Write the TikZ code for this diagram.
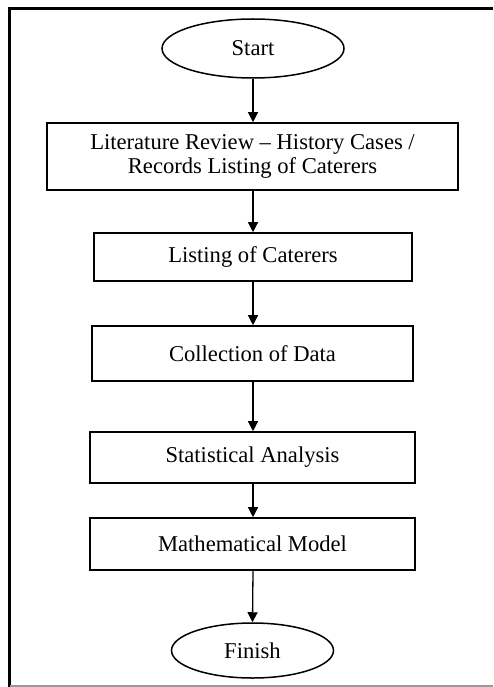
\documentclass[tikz,border=0pt]{standalone}
\usepackage{fontspec}
\setmainfont{Liberation Serif}
\usetikzlibrary{shapes.geometric,arrows.meta}
\begin{document}
\begin{tikzpicture}[x=1pt,y=-1pt,
  every node/.style={font=\fontsize{22.6}{23.5}\selectfont, text=black, inner sep=0pt, align=center},
  terminal/.style={draw, ellipse, line width=1.5pt},
  stepbox/.style={draw, rectangle, line width=1.6pt},
  flow/.style={line width=1.3pt, -{Triangle[length=10pt,width=10pt]}}]
  \useasboundingbox (0,0) rectangle (493,687);

  % page frame
  \draw[line width=3pt] (8,8.5) -- (493,8.5);
  \draw[line width=3pt] (9.5,7) -- (9.5,687);
  \draw[line width=1.5pt, black!40] (9.5,686) -- (493,686);

  % flowchart
  \node[terminal, minimum width=182pt, minimum height=59pt] (start) at (253,48.5) {Start};
  \node[stepbox, minimum width=411pt, minimum height=67pt] (review) at (252.5,156.5)
       {Literature Review -- History Cases /\\Records Listing of Caterers};
  \node[stepbox, minimum width=318pt, minimum height=48pt] (listing) at (253,257) {Listing of Caterers};
  \node[stepbox, minimum width=321pt, minimum height=55pt] (collect) at (252.5,353.5) {Collection of Data};
  \node[stepbox, minimum width=325pt, minimum height=51pt] (stats) at (252.5,457.5) {Statistical Analysis};
  \node[stepbox, minimum width=325pt, minimum height=52pt] (model) at (252.5,544) {Mathematical Model};
  \node[terminal, minimum width=162pt, minimum height=55pt] (finish) at (252.5,650.5) {Finish};

  \draw[flow] (start.south) -- (start.south |- review.north);
  \draw[flow] (start.south |- review.south) -- (start.south |- listing.north);
  \draw[flow] (start.south |- listing.south) -- (start.south |- collect.north);
  \draw[flow] (start.south |- collect.south) -- (start.south |- stats.north);
  \draw[flow] (start.south |- stats.south) -- (start.south |- model.north);
  \draw[flow] (start.south |- model.south) -- (finish.north);
\end{tikzpicture}
\end{document}
